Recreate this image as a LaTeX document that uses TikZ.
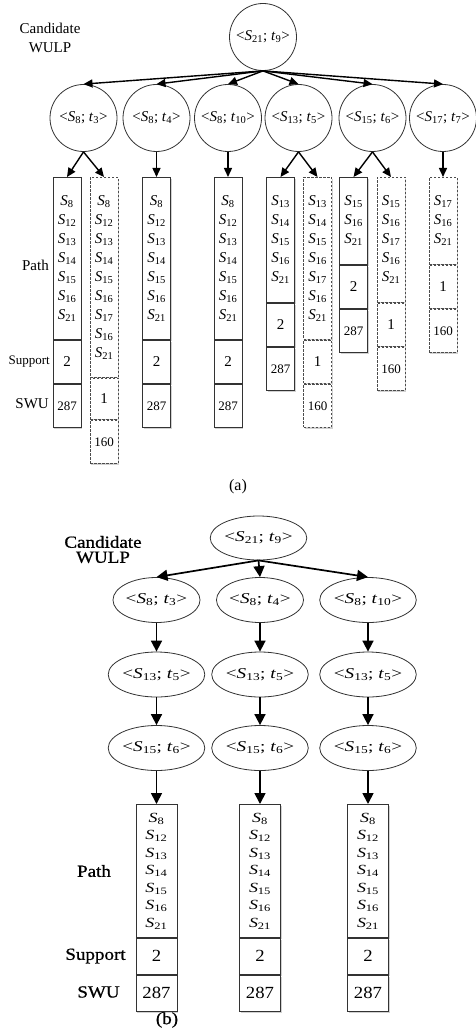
\documentclass[tikz,border=0pt]{standalone}
\usepackage{fontspec}
\setmainfont{Liberation Serif}
\newfontfamily\widefont[FakeStretch=1.28]{Liberation Serif}
\newfontfamily\numfont[FakeStretch=1.1]{Liberation Serif}
\newfontfamily\labfont[FakeStretch=1.12,FakeBold=0.8]{Liberation Serif}
\usetikzlibrary{arrows.meta,shadows,shapes.geometric}

% state labels <S_i; t_j> and path entries S_i
\newcommand\Sv[1]{\textit{S}\textsubscript{#1}}
\newcommand\pair[2]{<\textit{S}\textsubscript{#1}; \textit{t}\textsubscript{#2}>}

\tikzset{
  x=1pt, y=-1pt,
  circ/.style={circle, draw=black!80, line width=0.8pt, fill=white,
    minimum size=67pt, inner sep=0pt, font=\fontsize{15}{18}\selectfont},
  oval/.style={ellipse, draw=black!80, line width=0.8pt, fill=white,
    minimum width=76pt, minimum height=45pt, inner sep=0pt,
    font=\widefont\fontsize{15}{18}\selectfont},
  cell/.style={rectangle, draw=black!80, line width=0.9pt, fill=white,
    minimum width=28pt, inner sep=0pt, anchor=north, align=center},
  shade/.style={drop shadow={shadow xshift=1.3pt, shadow yshift=-1.3pt,
    fill=black!40, opacity=0.45}},
  solidcell/.style={cell, shade},
  dashcell/.style={cell, shade, draw=black!70, dash pattern=on 2.5pt off 1.5pt},
  pathA/.style={font=\fontsize{15}{19}\selectfont},
  supA/.style={minimum height=43pt, font=\fontsize{15}{18}\selectfont},
  swuA/.style={minimum height=43pt, font=\fontsize{13}{16}\selectfont},
  cellB/.style={solidcell, minimum width=41pt},
  pathB/.style={minimum height=133pt, font=\widefont\fontsize{14}{17.5}\selectfont},
  numB/.style={minimum height=36pt, font=\numfont\fontsize{17}{20}\selectfont},
  arrA/.style={-{Triangle[length=9pt,width=8pt]}, line width=1.4pt},
  arrB/.style={-{Triangle[length=11pt,width=11pt]}, line width=1.7pt},
  labA/.style={font=\fontsize{15}{19}\selectfont, inner sep=0pt, align=center},
  labB/.style={font=\labfont\fontsize{17}{15}\selectfont, inner sep=0pt, align=center},
}

\begin{document}
\begin{tikzpicture}
\useasboundingbox (0,0) rectangle (475,1032);

% ---------------- (a) ----------------
\node[labA] (candA) at (50,37.5) {Candidate\\WULP};

\node[circ] (r) at (263,37) {\pair{21}{9}};
\node[circ] (c1) at (83.5,118) {\pair{8}{3}};
\node[circ] (c2) at (156.5,118) {\pair{8}{4}};
\node[circ] (c3) at (228,118) {\pair{8}{10}};
\node[circ] (c4) at (298.5,118) {\pair{13}{5}};
\node[circ] (c5) at (372.5,118) {\pair{15}{6}};
\node[circ] (c6) at (443,118) {\pair{17}{7}};

% column 1
\node[solidcell, pathA, minimum height=162pt] (p1) at (67,177)
  {\Sv{8}\\\Sv{12}\\\Sv{13}\\\Sv{14}\\\Sv{15}\\\Sv{16}\\\Sv{21}};
\node[solidcell, supA] (s1) at (p1.south) {2};
\node[solidcell, swuA] (w1) at (s1.south) {287};
% column 2
\node[dashcell, pathA, minimum height=200pt] (p2) at (104,177)
  {\Sv{8}\\\Sv{12}\\\Sv{13}\\\Sv{14}\\\Sv{15}\\\Sv{16}\\\Sv{17}\\\Sv{16}\\\Sv{21}};
\node[dashcell, supA, minimum height=41pt] (s2) at (p2.south) {1};
\node[dashcell, swuA] (w2) at (s2.south) {160};
% column 3
\node[solidcell, pathA, minimum height=162pt] (p3) at (156.5,177)
  {\Sv{8}\\\Sv{12}\\\Sv{13}\\\Sv{14}\\\Sv{15}\\\Sv{16}\\\Sv{21}};
\node[solidcell, supA] (s3) at (p3.south) {2};
\node[solidcell, swuA] (w3) at (s3.south) {287};
% column 4
\node[solidcell, pathA, minimum height=162pt] (p4) at (228,177)
  {\Sv{8}\\\Sv{12}\\\Sv{13}\\\Sv{14}\\\Sv{15}\\\Sv{16}\\\Sv{21}};
\node[solidcell, supA] (s4) at (p4.south) {2};
\node[solidcell, swuA] (w4) at (s4.south) {287};
% column 5
\node[solidcell, pathA, minimum height=125pt] (p5) at (280.5,177)
  {\Sv{13}\\\Sv{14}\\\Sv{15}\\\Sv{16}\\\Sv{21}};
\node[solidcell, supA] (s5) at (p5.south) {2};
\node[solidcell, swuA] (w5) at (s5.south) {287};
% column 6
\node[dashcell, pathA, minimum height=162pt] (p6) at (317.5,177)
  {\Sv{13}\\\Sv{14}\\\Sv{15}\\\Sv{16}\\\Sv{17}\\\Sv{16}\\\Sv{21}};
\node[dashcell, supA] (s6) at (p6.south) {1};
\node[dashcell, swuA] (w6) at (s6.south) {160};
% column 7
\node[solidcell, pathA, minimum height=87pt] (p7) at (353.5,177)
  {\Sv{15}\\\Sv{16}\\\Sv{21}};
\node[solidcell, supA] (s7) at (p7.south) {2};
\node[solidcell, swuA] (w7) at (s7.south) {287};
% column 8
\node[dashcell, pathA, minimum height=125pt] (p8) at (391,177)
  {\Sv{15}\\\Sv{16}\\\Sv{17}\\\Sv{16}\\\Sv{21}};
\node[dashcell, supA] (s8) at (p8.south) {1};
\node[dashcell, swuA] (w8) at (s8.south) {160};
% column 9
\node[dashcell, pathA, minimum height=87pt] (p9) at (443,177)
  {\Sv{17}\\\Sv{16}\\\Sv{21}};
\node[dashcell, supA] (s9) at (p9.south) {1};
\node[dashcell, swuA] (w9) at (s9.south) {160};

\node[labA, anchor=east] (pathA) at (49,265) {Path};
\node[labA, anchor=east, font=\fontsize{13}{15}\selectfont] (supLA) at (50,362) {Support};
\node[labA, anchor=east] (swuLA) at (49,404) {SWU};

\foreach \c in {c1,c2,c3,c4,c5,c6}
  \draw[arrA] (r.south) -- (\c.north);
\draw[arrA] (c1.south) -- (p1.north);
\draw[arrA] (c1.south) -- (p2.north);
\draw[arrA] (c2.south) -- (p3.north);
\draw[arrA] (c3.south) -- (p4.north);
\draw[arrA] (c4.south) -- (p5.north);
\draw[arrA] (c4.south) -- (p6.north);
\draw[arrA] (c5.south) -- (p7.north);
\draw[arrA] (c5.south) -- (p8.north);
\draw[arrA] (c6.south) -- (p9.north);

\node[font=\fontsize{16}{18}\selectfont] (capA) at (238,487) {(a)};

% ---------------- (b) ----------------
\node[labB] (candB) at (103,549.5) {Candidate\\WULP};

\node[oval, minimum width=72pt, minimum height=44pt] (rb) at (258.5,538) {\pair{21}{9}};
\foreach \n/\x/\t in {1/156.5/3, 2/260/4, 3/368/10} {
  \node[oval] (u\n) at (\x,600) {\pair{8}{\t}};
  \node[oval] (v\n) at (\x,674.5) {\pair{13}{5}};
  \node[oval] (z\n) at (\x,748) {\pair{15}{6}};
  \node[cellB, pathB] (q\n) at (\x,804)
    {\Sv{8}\\\Sv{12}\\\Sv{13}\\\Sv{14}\\\Sv{15}\\\Sv{16}\\\Sv{21}};
  \node[cellB, numB] (g\n) at (q\n.south) {2};
  \node[cellB, numB] (h\n) at (g\n.south) {287};
  \draw[arrB] (rb.south) -- (u\n.north);
  \draw[arrB] (u\n.south) -- (v\n.north);
  \draw[arrB] (v\n.south) -- (z\n.north);
  \draw[arrB] (z\n.south) -- (q\n.north);
}

\node[labB] (pathB) at (94,871) {Path};
\node[labB] (supLB) at (95.5,956) {Support};
\node[labB] (swuLB) at (98.5,992) {SWU};
\node[labB] (capB) at (167,1020) {(b)};
\end{tikzpicture}
\end{document}
